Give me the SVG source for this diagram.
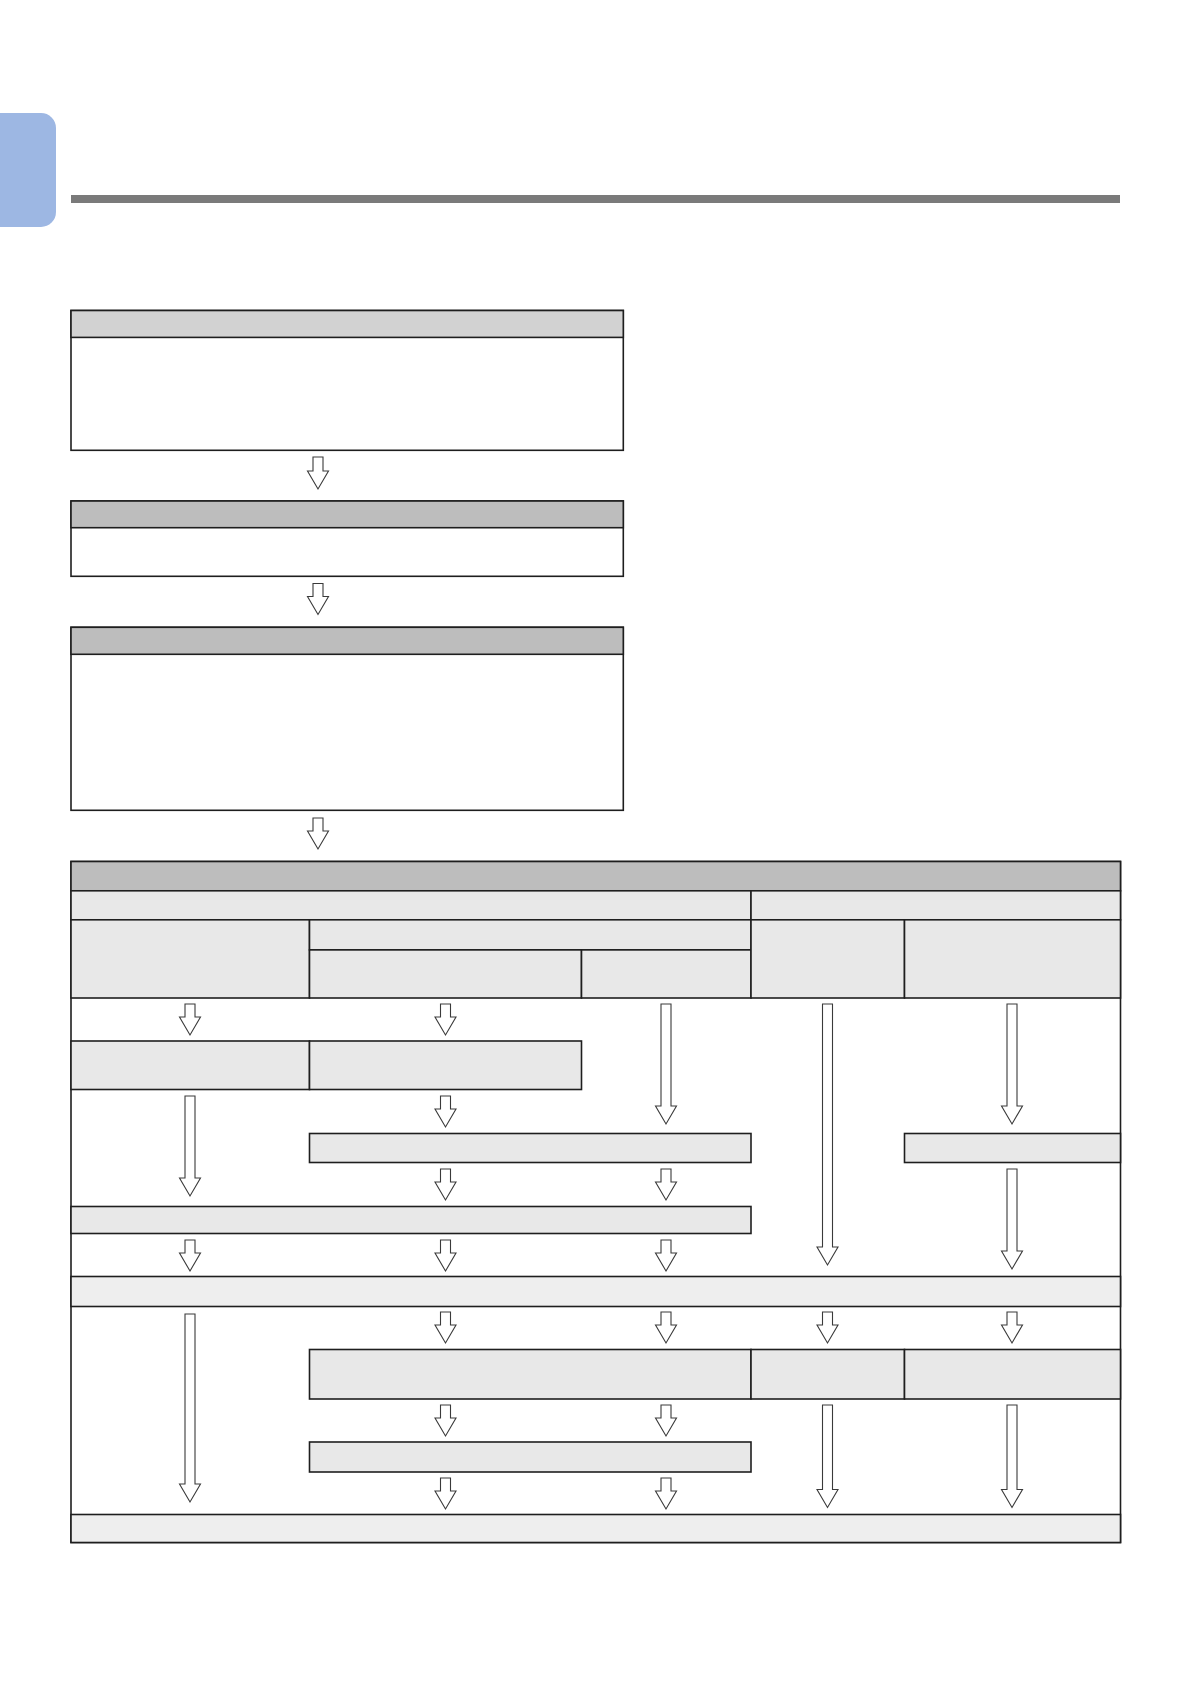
<svg xmlns="http://www.w3.org/2000/svg" width="1191" height="1684" viewBox="0 0 1191 1684">
<style>
.bx{fill:#ffffff;stroke:#1e1e1e;stroke-width:1.6}
.h1{fill:#d2d2d2;stroke:#1e1e1e;stroke-width:1.6}
.h2{fill:#bdbdbd;stroke:#1e1e1e;stroke-width:1.6}
.c{fill:#e8e8e8;stroke:#1e1e1e;stroke-width:1.6}
.c2{fill:#eeeeee;stroke:#1e1e1e;stroke-width:1.6}
.ar{fill:#ffffff;stroke:#3a3a3a;stroke-width:1.1;stroke-linejoin:miter}
</style>
<rect width="1191" height="1684" fill="#ffffff"/>
<g id="tab"><rect x="-20" y="113" width="76" height="114" rx="15" ry="15" fill="#9db7e3"/></g>
<g id="rule"><rect x="71" y="195" width="1049" height="8" fill="#7a7a7a"/></g>

<g id="box1">
<rect class="bx" x="71" y="310.5" width="552.3" height="139.8"/>
<rect class="h1" x="71" y="310.5" width="552.3" height="26.9"/>
</g>
<g id="box2">
<rect class="bx" x="71" y="501" width="552.3" height="75.3"/>
<rect class="h2" x="71" y="501" width="552.3" height="26.7"/>
</g>
<g id="box3">
<rect class="bx" x="71" y="627.3" width="552.3" height="183"/>
<rect class="h2" x="71" y="627.3" width="552.3" height="27"/>
</g>

<g id="table">
<rect class="bx" x="71" y="861.5" width="1049.5" height="681"/>
<g id="t-header"><rect class="h2" x="71" y="861.5" width="1049.5" height="29.3"/></g>
<g id="t-a1"><rect class="c" x="71" y="890.8" width="680" height="29"/></g>
<g id="t-a2"><rect class="c" x="751" y="890.8" width="369.5" height="29"/></g>
<g id="t-b1"><rect class="c" x="71" y="919.8" width="238.5" height="78.2"/></g>
<g id="t-b2"><rect class="c" x="309.5" y="919.8" width="441.5" height="30.1"/></g>
<g id="t-b3"><rect class="c" x="309.5" y="949.9" width="272" height="48.1"/></g>
<g id="t-b4"><rect class="c" x="581.5" y="949.9" width="169.5" height="48.1"/></g>
<g id="t-b5"><rect class="c" x="751" y="919.8" width="153.5" height="78.2"/></g>
<g id="t-b6"><rect class="c" x="904.5" y="919.8" width="216" height="78.2"/></g>
<g id="s1a"><rect class="c" x="71" y="1041" width="238.5" height="48.5"/></g>
<g id="s1b"><rect class="c" x="309.5" y="1041" width="272" height="48.5"/></g>
<g id="s2a"><rect class="c" x="309.5" y="1133.5" width="441.5" height="29"/></g>
<g id="s2b"><rect class="c" x="904.5" y="1133.5" width="216" height="29"/></g>
<g id="s3"><rect class="c" x="71" y="1206.5" width="680" height="27"/></g>
<g id="s4"><rect class="c2" x="71" y="1276.5" width="1049.5" height="30"/></g>
<g id="s5a"><rect class="c" x="309.5" y="1349.5" width="441.5" height="49.5"/></g>
<g id="s5b"><rect class="c" x="751" y="1349.5" width="153.5" height="49.5"/></g>
<g id="s5c"><rect class="c" x="904.5" y="1349.5" width="216" height="49.5"/></g>
<g id="s6"><rect class="c" x="309.5" y="1442" width="441.5" height="30"/></g>
<g id="s7"><rect class="c2" x="71" y="1514.5" width="1049.5" height="28"/></g>
</g>

<g id="connectors">
<path class="ar" d="M313,457H323V471H328.5L318,489L307.5,471H313Z"/>
<path class="ar" d="M313,583.5H323V596.5H328.5L318,614.5L307.5,596.5H313Z"/>
<path class="ar" d="M313,818H323V831H328.5L318,849L307.5,831H313Z"/>

<path class="ar" d="M185,1004H195V1017H200.5L190,1035L179.5,1017H185Z"/>
<path class="ar" d="M440.5,1004H450.5V1017H456L445.5,1035L435,1017H440.5Z"/>
<path class="ar" d="M661,1004H671V1106H676.5L666,1124L655.5,1106H661Z"/>
<path class="ar" d="M822.5,1004H832.5V1247H838L827.5,1265L817,1247H822.5Z"/>
<path class="ar" d="M1007,1004H1017V1106H1022.5L1012,1124L1001.5,1106H1007Z"/>

<path class="ar" d="M185,1096H195V1178H200.5L190,1196L179.5,1178H185Z"/>
<path class="ar" d="M440.5,1096H450.5V1109H456L445.5,1127L435,1109H440.5Z"/>

<path class="ar" d="M440.5,1169H450.5V1182H456L445.5,1200L435,1182H440.5Z"/>
<path class="ar" d="M661,1169H671V1182H676.5L666,1200L655.5,1182H661Z"/>
<path class="ar" d="M1007,1169H1017V1251H1022.5L1012,1269L1001.5,1251H1007Z"/>

<path class="ar" d="M185,1240H195V1253H200.5L190,1271L179.5,1253H185Z"/>
<path class="ar" d="M440.5,1240H450.5V1253H456L445.5,1271L435,1253H440.5Z"/>
<path class="ar" d="M661,1240H671V1253H676.5L666,1271L655.5,1253H661Z"/>

<path class="ar" d="M185,1314H195V1484H200.5L190,1502L179.5,1484H185Z"/>
<path class="ar" d="M440.5,1312H450.5V1325H456L445.5,1343L435,1325H440.5Z"/>
<path class="ar" d="M661,1312H671V1325H676.5L666,1343L655.5,1325H661Z"/>
<path class="ar" d="M822.5,1312H832.5V1325H838L827.5,1343L817,1325H822.5Z"/>
<path class="ar" d="M1007,1312H1017V1325H1022.5L1012,1343L1001.5,1325H1007Z"/>

<path class="ar" d="M440.5,1405H450.5V1418H456L445.5,1436L435,1418H440.5Z"/>
<path class="ar" d="M661,1405H671V1418H676.5L666,1436L655.5,1418H661Z"/>
<path class="ar" d="M822.5,1405H832.5V1489.5H838L827.5,1507.5L817,1489.5H822.5Z"/>
<path class="ar" d="M1007,1405H1017V1489.5H1022.5L1012,1507.5L1001.5,1489.5H1007Z"/>

<path class="ar" d="M440.5,1478H450.5V1491H456L445.5,1509L435,1491H440.5Z"/>
<path class="ar" d="M661,1478H671V1491H676.5L666,1509L655.5,1491H661Z"/>
</g>
</svg>
